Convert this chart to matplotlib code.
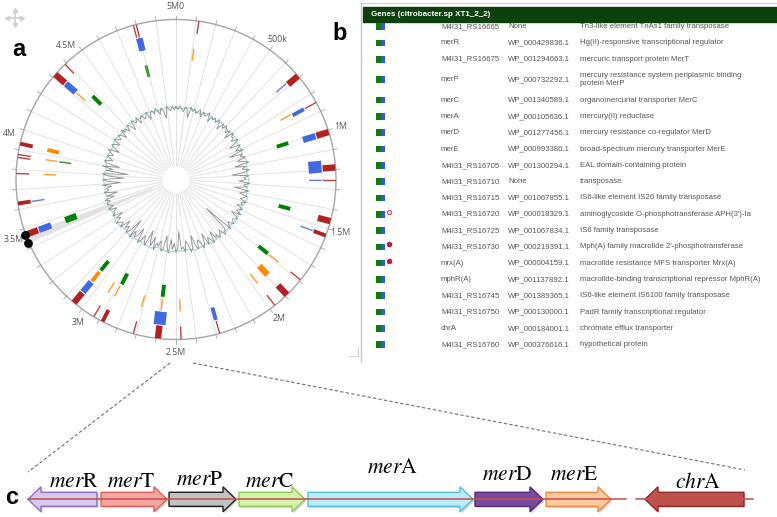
import numpy as np
import matplotlib
matplotlib.use('Agg')
import matplotlib.pyplot as plt
import matplotlib.patheffects as pe
from matplotlib.patches import FancyArrow, Rectangle

plt.rcParams['font.family'] = ['Liberation Sans', 'DejaVu Sans']
plt.rcParams['mathtext.fontset'] = 'stix'

# ---------------- data ----------------
GENOME_MB = 5.0
tick_pos = [0.0, 0.5, 1.0, 1.5, 2.0, 2.5, 3.0, 3.5, 4.0, 4.5]
tick_labels = ['5M0', '500k', '1M', '1.5M', '2M', '2.5M', '3M', '3.5M', '4M', '4.5M']

# genomic features (position in Mb, track, size class)
feat_pos = [0.114, 0.108,
            0.69, 0.68,
            0.85, 0.85, 0.84,
            1.01, 1.01, 1.00,
            1.18, 1.19, 1.255, 1.255,
            1.46, 1.45,
            1.535, 1.535,
            1.79, 1.79, 1.79,
            1.89, 1.89, 1.97, 1.97,
            2.28, 2.28,
            2.475, 2.475,
            2.59, 2.59, 2.59, 2.59,
            2.71, 2.715,
            2.88, 2.885, 2.88, 2.93, 2.93,
            3.05, 3.05, 3.05, 3.05,
            3.47, 3.47, 3.47,
            3.63, 3.63,
            3.78, 3.78,
            3.86, 3.875, 3.87, 3.87,
            3.93, 3.93,
            4.32, 4.32, 4.32, 4.39, 4.375,
            4.785, 4.80, 4.79, 4.805, 4.79, 4.80]
feat_track = ['R', 'O',
              'R', 'B',
              'R', 'B', 'O',
              'R', 'B', 'G',
              'B', 'R', 'B', 'R',
              'R', 'G',
              'B', 'R',
              'G', 'O', 'R',
              'O', 'R', 'O', 'R',
              'B', 'R',
              'O', 'R',
              'R', 'B', 'O', 'G',
              'O', 'R',
              'G', 'O', 'R', 'O', 'R',
              'R', 'B', 'O', 'G',
              'R', 'B', 'G',
              'R', 'B',
              'R', 'O',
              'R', 'R', 'O', 'G',
              'R', 'O',
              'R', 'B', 'O', 'R', 'G',
              'R', 'R', 'B', 'B', 'G', 'G']
feat_size = ['t', 't',
             'k', 't',
             't', 'm', 't',
             'k', 'k', 'm',
             's', 'k', 't', 't',
             'k', 'm',
             't', 'm',
             'm', 't', 't',
             'k', 'k', 't', 't',
             'm', 't',
             't', 't',
             'k', 's', 't', 'm',
             't', 't',
             'm', 't', 'm', 't', 't',
             'k', 'k', 'm', 'm',
             'k', 'k', 'k',
             'm', 't',
             't', 't',
             't', 't', 't', 't',
             'm', 'm',
             'k', 'k', 't', 't', 'm',
             't', 't', 'm', 'm', 't', 't']

# GC line (deviation from ring baseline, 1.5 deg steps)
gc_dev = [1, -2, 2, -1, -4, 1, -1, -9, 2, -2, 1, -3,
          -1, 2, -5, 1, -2, -1, 3, -6, 0, -2, 1, -3,
          2, -1, -7, 1, -3, 2, -1, -4, 1, -8, 2, -2,
          -1, -5, 2, -3, -10, 1, -2, -6, 2, -14, -1, -4,
          1, -8, -2, 3, -12, -1, -5, 2, -3, -16, 1, -4,
          -2, -9, 2, -4, -1, -13, 2, -3, -7, 1, -2, -5,
          2, -3, -1, -6, 1, -2, -4, 2, -8, -1, 1, -3,
          -2, 1, -5, -3, 2, -30, -4, -1, 2, -6, -2, 1,
          -4, -1, -10, 2, -3, -6, 1, -12, -2, 2, -5, -8,
          1, -3, -14, -1, 2, -6, -10, 1, -4, -2, -20, -3,
          1, -8, -2, -12, 2, -4, -15, -1, 1, -9, -3, -6,
          2, -11, -1, -5, -16, 1, -3, -8, -2, 2, -13, -4,
          -1, -7, 2, -18, -3, 1, -6, -2, -10, 1, -4, -2,
          2, -5, -1, -9, 1, -3, -2, -6, 2, -4, -1, 1,
          -3, 2, -8, -1, -12, 1, -4, -2, -7, 2, -16, -3,
          1, -20, -4, 2, -24, -2, -8, 3, -14, -1, 2, -6,
          -2, 1, -5, -1, 2, -9, -3, 1, -2, -6, 2, -1,
          -4, 1, -2, -7, 2, -3, -1, -5, 1, -2, -8, 2,
          -1, -3, 2, -6, -1, 1, -4, -2, 2, -7, -1, 1,
          -3, 2, -1, -5, 1, -2, -10, 2, -1, -3, 1, -2]
gc_smooth = [0, -1, 1, 0, -2, 1, 0, -1, 1, -1, 0, 1, -1, 0, -2, 1, 0, -1,
             1, 0, -1, 2, 0, -1, 0, 1, -1, 0, -2, 0, 1, -1, 0, 1, -1, 0,
             -1, 1, 0, -2, 1, 0, -1, 0, 1, -1, 0, 2, -1, 0, 1, -1, 0, -1,
             1, 0, -2, 1, 0, -1, 0, 1, -1, 0, 1, 0, -1, 1, 0, -1, 0, 1]

region_start, region_end = 3.425, 3.472

# table (panel b)
tbl_gene = ['M4I31_RS16665', 'merR', 'M4I31_RS16675', 'merP', 'merC', 'merA', 'merD',
            'merE', 'M4I31_RS16705', 'M4I31_RS16710', 'M4I31_RS16715', 'M4I31_RS16720',
            'M4I31_RS16725', 'M4I31_RS16730', 'mrx(A)', 'mphR(A)', 'M4I31_RS16745',
            'M4I31_RS16750', 'chrA', 'M4I31_RS16760']
tbl_acc = ['None', 'WP_000429836.1', 'WP_001294663.1', 'WP_000732292.1', 'WP_001340589.1',
           'WP_000105636.1', 'WP_001277456.1', 'WP_000993386.1', 'WP_001300294.1', 'None',
           'WP_001067855.1', 'WP_000018329.1', 'WP_001067834.1', 'WP_000219391.1',
           'WP_000004159.1', 'WP_001137892.1', 'WP_001389365.1', 'WP_000130000.1',
           'WP_000184001.1', 'WP_000376616.1']
tbl_product = ['Tn3-like element TnAs1 family transposase',
               'Hg(II)-responsive transcriptional regulator',
               'mercuric transport protein MerT',
               'mercury resistance system periplasmic binding\nprotein MerP',
               'organomercurial transporter MerC',
               'mercury(II) reductase',
               'mercury resistance co-regulator MerD',
               'broad-spectrum mercury transporter MerE',
               'EAL domain-containing protein',
               'transposase',
               'IS6-like element IS26 family transposase',
               "aminoglycoside O-phosphotransferase APH(3')-Ia",
               'IS6 family transposase',
               "Mph(A) family macrolide 2'-phosphotransferase",
               'macrolide resistance MFS transporter Mrx(A)',
               'macrolide-binding transcriptional repressor MphR(A)',
               'IS6-like element IS6100 family transposase',
               'PadR family transcriptional regulator',
               'chromate efflux transporter',
               'hypothetical protein']
tbl_mark = ['', '', '', '', '', '', '', '', '', '', '', 'hollow', '', 'filled', 'filled',
            '', '', '', '', '']

# gene map (panel c)
gene_prefix = ['mer', 'mer', 'mer', 'mer', 'mer', 'mer', 'mer', 'chr']
gene_suffix = ['R', 'T', 'P', 'C', 'A', 'D', 'E', 'A']
gene_tail = [97, 101, 169, 239, 308, 475, 546, 744]
gene_tip = [28, 167, 236, 305, 473, 543, 611, 645]
gene_face = ['#d9c7ed', '#f5a5a2', '#c2c2c2', '#d6f0ad', '#bcecf9', '#7a4b9f', '#fdc99e', '#c0504d']
gene_edge = ['#8f6cc0', '#e0605a', '#202020', '#90cc52', '#4cc2e2', '#55297a', '#f08a3c', '#8c2a28']
label_dx = [11, -3, -3, -2, 2, -2, -4, 3]
label_base = [487, 487, 485, 487, 473, 480, 480, 488]
tick_label_shift = [0, 0, 0, 0, -0.7, 0, -1.5, -2.4, -2.7, -3.4]

# ---------------- figure ----------------
W, H = 777, 517
fig = plt.figure(figsize=(W / 100, H / 100), dpi=100)
bg = fig.add_axes([0, 0, 1, 1])
bg.set_xlim(0, W)
bg.set_ylim(H, 0)
bg.axis('off')

# ---- panel a: circular genome ----
cx, cy, R = 176, 179.5, 160
axp = fig.add_axes([(cx - R) / W, 1 - (cy + R) / H, 2 * R / W, 2 * R / H], projection='polar')
axp.set_theta_zero_location('N')
axp.set_theta_direction(-1)
axp.set_ylim(0, R)
axp.set_xticks([])
axp.set_yticks([])
axp.grid(False)
axp.patch.set_alpha(0)
axp.spines['polar'].set_color('#a5a5a5')
axp.spines['polar'].set_linewidth(1.0)


def th(p):
    return p / GENOME_MB * 2 * np.pi


for k in range(50):
    t = th(k * 0.1)
    axp.plot([t, t], [14, R], color='#e2e2e2', lw=0.7, zorder=1)
    axp.plot([t, t], [R, R + 4], color='#b0b0b0', lw=0.7, zorder=1, clip_on=False)

for p, lab, sh in zip(tick_pos, tick_labels, tick_label_shift):
    axp.text(th(p) + np.deg2rad(sh), 173, lab, ha='center', va='center', fontsize=6.3,
             color='#555555', family=['Open Sans', 'DejaVu Sans'])

# highlighted region wedge
axp.bar(th((region_start + region_end) / 2), R - 25, bottom=25,
        width=th(region_end) - th(region_start), color='#e2e2e2', zorder=2, linewidth=0)

# GC ring
base_r = 72
t_sm = np.linspace(0, 2 * np.pi, len(gc_smooth), endpoint=False)
t_sm = np.append(t_sm, 2 * np.pi)
r_sm = base_r + np.append(gc_smooth, gc_smooth[0])
axp.plot(t_sm, r_sm, color='#a9dbe9', lw=1.0, zorder=3)
t_gc = np.linspace(0, 2 * np.pi, len(gc_dev), endpoint=False)
t_gc = np.append(t_gc, 2 * np.pi)
r_gc = base_r + np.append(gc_dev, gc_dev[0])
axp.plot(t_gc, r_gc, color='#8c8c8c', lw=0.6, zorder=3)

tracks = {'R': (147, 160), 'B': (133, 146), 'O': (120, 132), 'G': (106, 118)}
track_col = {'R': '#b22222', 'B': '#4169e1', 'O': '#ff8c00', 'G': '#008000'}
size_lw = {'t': 1.0, 'm': 2.8, 'k': 4.6, 's': 8.6}
for p, tr, s in zip(feat_pos, feat_track, feat_size):
    r0, r1 = tracks[tr]
    axp.plot([th(p), th(p)], [r0, r1], color=track_col[tr], lw=size_lw[s],
             solid_capstyle='butt', zorder=4, alpha=0.85 if s == 't' else 1.0)

axp.scatter([th(region_start), th(region_end)], [161, 161], s=28, color='black',
            zorder=6, clip_on=False)

# move/grip decorations
bg.plot([14.5, 14.5], [10, 25], color='#d0d0d0', lw=1.2)
bg.plot([7, 22], [17.5, 17.5], color='#d0d0d0', lw=1.2)
for mx, my, m in [(14.5, 10, '^'), (14.5, 25, 'v'), (7, 17.5, '<'), (22, 17.5, '>')]:
    bg.plot(mx, my, marker=m, ms=3, color='#d0d0d0')
for d in [3, 6, 9]:
    bg.plot([358 - d, 358], [356, 356], color='#d5d5d5', lw=0.8)
    bg.plot([358, 358], [356 - d, 356], color='#d5d5d5', lw=0.8)

# ---- panel b: table ----
bg.plot([361, W], [3, 3], color='#d0d0d0', lw=0.8)
bg.plot([361, 361], [3, 362], color='#c8c8c8', lw=1.0)
bg.add_patch(Rectangle((363, 7), W - 363, 15, color='#0c400c'))
bg.text(371, 14.8, 'Genes (citrobacter.sp XT1_2_2)', color='white', fontsize=5.8,
        fontweight='bold', va='center')

y = 18.5
for g, a, pr, mk in zip(tbl_gene, tbl_acc, tbl_product, tbl_mark):
    h = 16.3 if '\n' not in pr else 24.6
    yc = y + h / 2
    bg.add_patch(Rectangle((376, yc - 3.3), 4.6, 6.6, color='#137a13', lw=0))
    bg.add_patch(Rectangle((380.6, yc - 3.3), 4.4, 6.6, color='#2c5bd6', lw=0))
    if mk == 'hollow':
        bg.plot(388.5, yc - 2.5, 'o', ms=3.2, mfc='#f8d3df', mec='#c9406c', mew=0.7)
    elif mk == 'filled':
        bg.plot(388.5, yc - 2.5, 'o', ms=3.4, mfc='#d4154f', mec='#8a0a30', mew=0.5)
    bg.text(441, yc, g, fontsize=5.6, color='#555555', va='center')
    bg.text(508, yc, a, fontsize=5.6, color='#555555', va='center')
    bg.text(580, yc, pr, fontsize=5.6, color='#555555', va='center', linespacing=1.25)
    y += h

# ---- panel c: gene map ----
bg.plot([170, 28], [363, 472], color='#707070', lw=0.8, ls=(0, (3, 2)))
bg.plot([193, 745], [363, 470], color='#707070', lw=0.8, ls=(0, (3, 2)))

yc = 499.3
shadow = [pe.SimplePatchShadow(offset=(1.2, -1.2), shadow_rgbFace='#888888', alpha=0.35),
          pe.Normal()]
for i in range(len(gene_tail)):
    dx = gene_tip[i] - gene_tail[i]
    arr = FancyArrow(gene_tail[i], yc, dx, 0, width=14, head_width=25, head_length=13,
                     length_includes_head=True, facecolor=gene_face[i],
                     edgecolor=gene_edge[i], lw=1.0, zorder=3)
    arr.set_path_effects(shadow)
    bg.add_patch(arr)
    xm = (gene_tail[i] + gene_tip[i]) / 2 + label_dx[i]
    bg.text(xm, label_base[i], r'$\mathit{%s}\mathrm{%s}$' % (gene_prefix[i], gene_suffix[i]),
            fontsize=15.5, ha='center', va='baseline', color='black')

bg.plot([28, 626], [yc, yc], color='#c0504d', lw=1.1, zorder=4)
bg.plot([636, 753], [yc, yc], color='#c0504d', lw=1.1, zorder=4)

# panel letters
bg.text(19, 50, 'a', fontsize=17, fontweight='bold', ha='center', va='center')
bg.text(340, 34, 'b', fontsize=17, fontweight='bold', ha='center', va='center')
bg.text(12, 497, 'c', fontsize=17, fontweight='bold', ha='center', va='center')

fig.savefig('out.png', dpi=100)
